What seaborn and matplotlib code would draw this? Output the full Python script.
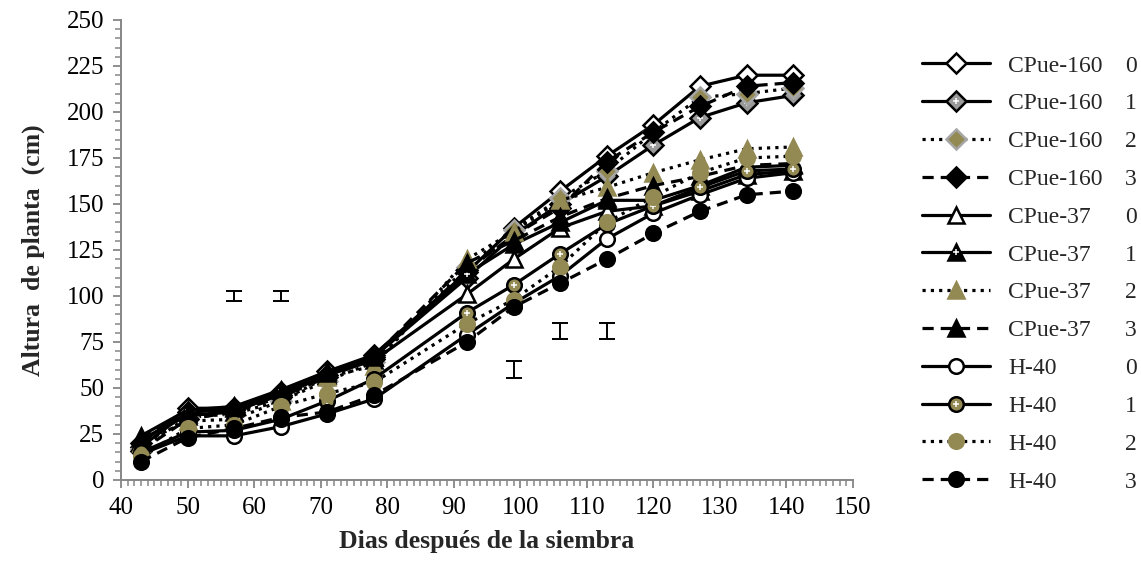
import numpy as np
import pandas as pd
import matplotlib
matplotlib.use("Agg")
import matplotlib.pyplot as plt
from matplotlib.ticker import MultipleLocator
from matplotlib.legend_handler import HandlerTuple
import seaborn as sns

days = [43, 50, 57, 64, 71, 78, 92, 99, 106, 113, 120, 127, 134, 141]

cp160_0 = [20, 39, 39, 48, 59, 68, 113, 137, 157, 176, 193, 214, 220, 220]
cp160_1 = [18, 37, 38, 46, 57, 67, 110, 133, 150, 165, 182, 197, 205, 209]
cp160_2 = [17, 34, 36, 43, 54, 64, 116, 136, 153, 168, 189, 208, 210, 213]
cp160_3 = [16, 33, 37, 45, 56, 66, 114, 133, 148, 173, 189, 203, 214, 216]
cp37_0 = [22, 35, 37, 47, 57, 65, 101, 120, 137, 146, 149, 157, 166, 168]
cp37_1 = [24, 38, 40, 49, 59, 67, 112, 128, 140, 152, 152, 160, 170, 171]
cp37_2 = [20, 32, 33, 43, 56, 62, 120, 135, 152, 159, 167, 174, 180, 181]
cp37_3 = [23, 36, 39, 47, 58, 67, 118, 130, 143, 153, 160, 165, 171, 172]
h40_0 = [14, 24, 24, 29, 36, 44, 79, 96, 111, 131, 145, 155, 164, 167]
h40_1 = [15, 26, 27, 33, 43, 55, 91, 106, 123, 139, 149, 159, 168, 169]
h40_2 = [13, 28, 30, 40, 47, 53, 85, 98, 116, 140, 154, 167, 175, 176]
h40_3 = [10, 23, 28, 34, 37, 46, 75, 94, 107, 120, 134, 146, 155, 157]

genotypes = ["CPue-160"] * 4 + ["CPue-37"] * 4 + ["H-40"] * 4
levels = ["0", "1", "2", "3"] * 3
series = [cp160_0, cp160_1, cp160_2, cp160_3,
          cp37_0, cp37_1, cp37_2, cp37_3,
          h40_0, h40_1, h40_2, h40_3]

# LSD bars
lsd_x = [57, 64, 99, 106, 113]
lsd_y = [100, 100, 60, 81, 81]
lsd_half = [2.5, 2.5, 4.5, 4.5, 4.5]

OLIVE = "#938953"
GRAY = "#a6a6a6"
SOLID = "-"
DOT = (0, (1, 1.6))
DASH = (0, (3.5, 2.2))

# style per series: marker, face, edge, linestyle, hatch-dots color (or None)
styles = [
    ("D", "white", "black", SOLID, None),
    ("D", "#9a9a9a", "black", SOLID, "white"),
    ("D", OLIVE, GRAY, DOT, None),
    ("D", "black", "black", DASH, None),
    ("^", "white", "black", SOLID, None),
    ("^", "black", "black", SOLID, "white"),
    ("^", OLIVE, OLIVE, DOT, None),
    ("^", "black", "black", DASH, None),
    ("o", "white", "black", SOLID, None),
    ("o", OLIVE, "black", SOLID, "white"),
    ("o", OLIVE, OLIVE, DOT, None),
    ("o", "black", "black", DASH, None),
]

sns.set_theme(style="white")
plt.rcParams["font.family"] = ["Liberation Serif", "DejaVu Serif"]

FS_T = 18
FS_L = 17
FS_A = 18.5
fig = plt.figure(figsize=(11.41, 5.62), dpi=100)
ax = fig.add_axes([121 / 1141, 1 - 480 / 562, (853 - 121) / 1141, (480 - 20) / 562])

handles = []
labels = []
for name, lev, vals, st in zip(genotypes, levels, series, styles):
    mk, fc, ec, ls, dots = st
    df = pd.DataFrame({"day": days, "h": vals})
    sns.lineplot(data=df, x="day", y="h", ax=ax, color="black", linestyle=ls,
                 linewidth=2.3, marker=mk, markersize=10.5 if mk != "^" else 12,
                 markerfacecolor=fc, markeredgecolor=ec, markeredgewidth=1.8,
                 legend=False, zorder=3)
    main = ax.get_lines()[-1]
    if dots is not None:
        ax.plot(days, vals, linestyle="none", marker="+", markersize=5,
                markeredgewidth=1.1, color=dots, zorder=3)
        over = ax.get_lines()[-1]
        handles.append((main, over))
    else:
        handles.append(main)
    labels.append(name)

ax.errorbar(lsd_x, lsd_y, yerr=lsd_half, fmt="none", ecolor="black",
            elinewidth=1.4, capsize=5.5, capthick=1.4, zorder=4)

ax.set_xlim(40, 150)
ax.set_ylim(0, 250)
ax.xaxis.set_major_locator(MultipleLocator(10))
ax.xaxis.set_minor_locator(MultipleLocator(1))
ax.yaxis.set_major_locator(MultipleLocator(25))
ax.yaxis.set_minor_locator(MultipleLocator(5))
for side in ["top", "right"]:
    ax.spines[side].set_visible(False)
for side in ["left", "bottom"]:
    ax.spines[side].set_color("#868686")
    ax.spines[side].set_linewidth(1.4)
ax.tick_params(axis="both", which="major", direction="out", length=6, width=1.3,
               color="#868686", labelsize=FS_T, labelcolor="black",
               bottom=True, left=True, pad=6)
ax.tick_params(axis="both", which="minor", direction="out", length=4, width=1.1,
               color="#868686", bottom=True, left=True)
ax.set_xlabel("Dias después de la siembra", fontsize=FS_A, fontweight="bold", labelpad=8)
ax.set_ylabel("Altura  de planta  (cm)", fontsize=FS_A, fontweight="bold", labelpad=16)

leg = fig.legend(handles, labels, loc="upper left",
                 bbox_to_anchor=(922 / 1141, 1 - 55 / 562),
                 bbox_transform=fig.transFigure, frameon=False, fontsize=FS_L,
                 handlelength=2.9, handletextpad=0.76, labelspacing=0.69,
                 borderaxespad=0, borderpad=0,
                 handler_map={tuple: HandlerTuple(ndivide=1, pad=0)})

fig.canvas.draw()
renderer = fig.canvas.get_renderer()
for txt, lev in zip(leg.get_texts(), levels):
    bb = txt.get_window_extent(renderer)
    yc = (bb.y0 + bb.y1) / 2
    fig.text(1125 / 1141, yc / fig.bbox.height, lev, fontsize=FS_L,
             va="center", ha="left")

fig.savefig("out.png", dpi=100)
